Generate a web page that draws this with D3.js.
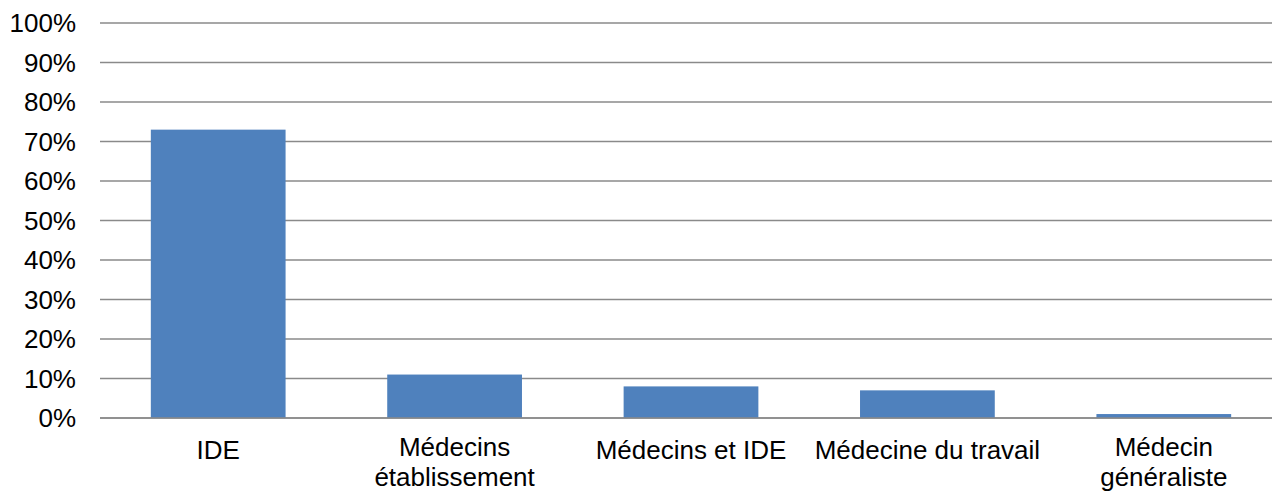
<!DOCTYPE html>
<html>
<head>
<meta charset="utf-8">
<script src="https://cdn.jsdelivr.net/npm/d3@7"></script>
<style>
  body { margin: 0; background: #fff; }
  svg text { font-family: "Liberation Sans", Arial, sans-serif; fill: #000; }
</style>
</head>
<body>
<div id="chart"></div>
<script>
// data
var categories = ["IDE", "Médecins établissement", "Médecins et IDE", "Médecine du travail", "Médecin généraliste"];
var values = [0.73, 0.11, 0.08, 0.07, 0.01];
var tickLabels = [["IDE"], ["Médecins", "établissement"], ["Médecins et IDE"], ["Médecine du travail"], ["Médecin", "généraliste"]];
var yTicks = [0, 0.1, 0.2, 0.3, 0.4, 0.5, 0.6, 0.7, 0.8, 0.9, 1];

var width = 1272, height = 493;

var svg = d3.select("#chart").append("svg")
    .attr("width", width)
    .attr("height", height);

// set the ranges
var x = d3.scaleBand()
    .domain(categories)
    .range([100, 1282])
    .paddingInner(0.43)
    .paddingOuter(0.215);
var y = d3.scaleLinear().domain([0, 1]).range([418, 23]);

// gridlines
svg.append("g").selectAll("line")
    .data(yTicks)
  .enter().append("line")
    .attr("x1", 100)
    .attr("x2", width)
    .attr("y1", function(d) { return y(d); })
    .attr("y2", function(d) { return y(d); })
    .attr("stroke", "#8a8a8a")
    .attr("stroke-width", 1.5);

// y labels
svg.append("g").selectAll("text")
    .data(yTicks)
  .enter().append("text")
    .attr("x", 76)
    .attr("y", function(d) { return y(d); })
    .attr("dy", "0.36em")
    .attr("text-anchor", "end")
    .style("font-size", "26px")
    .text(d3.format(".0%"));

// bars
svg.append("g").selectAll("rect")
    .data(values)
  .enter().append("rect")
    .attr("x", function(d, i) { return x(categories[i]); })
    .attr("width", x.bandwidth())
    .attr("y", function(d) { return y(d); })
    .attr("height", function(d) { return y(0) - y(d); })
    .attr("fill", "#4f81bd");

// redraw the base line over the bars
svg.append("line")
    .attr("x1", 100).attr("x2", width)
    .attr("y1", y(0)).attr("y2", y(0))
    .attr("stroke", "#8a8a8a")
    .attr("stroke-width", 1.5);

// category labels (two-line labels sit a little higher to fit the frame)
var lab = svg.append("g").selectAll("text")
    .data(tickLabels)
  .enter().append("text")
    .attr("text-anchor", "middle")
    .style("font-size", "26px")
    .attr("x", function(d, i) { return x(categories[i]) + x.bandwidth() / 2; })
    .attr("y", function(d) { return d.length > 1 ? 456 : 459; });

lab.selectAll("tspan")
    .data(function(d) { return d; })
  .enter().append("tspan")
    .attr("x", function() { return this.parentNode.getAttribute("x"); })
    .attr("dy", function(d, i) { return i ? 29.5 : 0; })
    .text(function(d) { return d; });
</script>
</body>
</html>
